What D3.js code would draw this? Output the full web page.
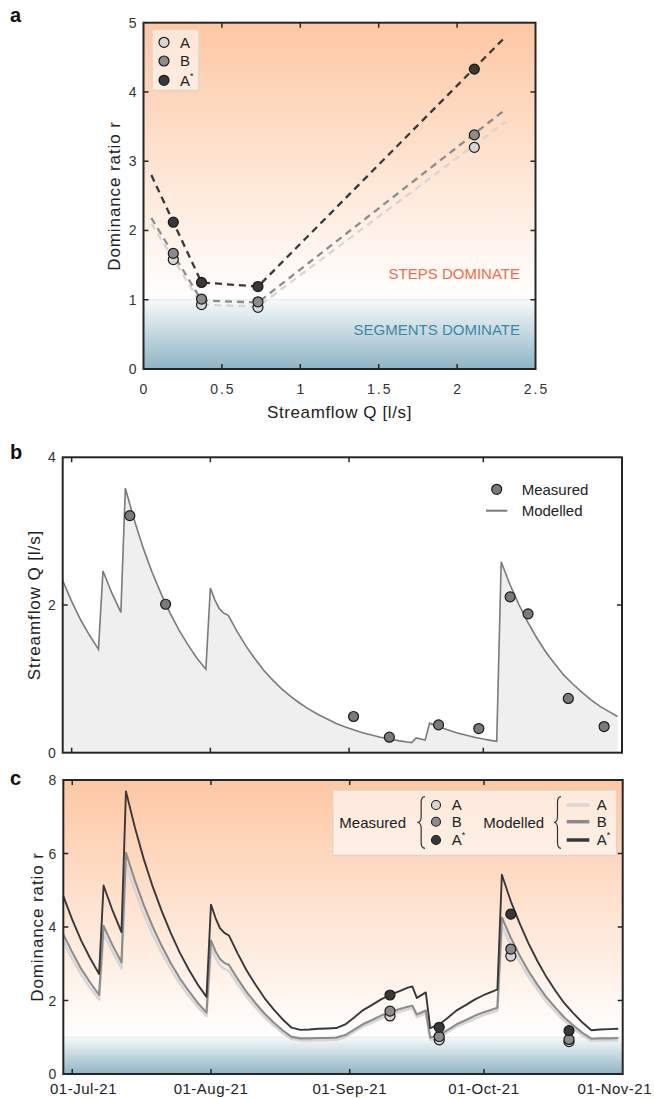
<!DOCTYPE html>
<html><head><meta charset="utf-8">
<script src="https://cdn.jsdelivr.net/npm/d3@7"></script>
<style>
body{margin:0;background:#fff}
svg{display:block}
text{font-family:"Liberation Sans",Arial,Helvetica,sans-serif}
</style>
</head><body>
<svg id="fig" width="654" height="1098"></svg>
<script>
// ---------- Panel a data ----------
const fitQ   = [0.05, 0.37, 0.73, 2.31];
const fitA   = [2.10, 0.93, 0.90, 3.57];
const fitB   = [2.18, 0.99, 0.96, 3.75];
const fitAs  = [2.80, 1.25, 1.19, 4.80];
const measQ  = [0.19, 0.37, 0.73, 2.11];
const measA  = [1.58, 0.93, 0.89, 3.20];
const measB  = [1.67, 1.01, 0.97, 3.38];
const measAs = [2.12, 1.25, 1.19, 4.33];
const xTicksA = [0, 0.5, 1, 1.5, 2, 2.5];
const yTicksA = [0, 1, 2, 3, 4, 5];

// ---------- Panel b/c modelled series ----------
const modelDates = ["2021-06-29","2021-07-01","2021-07-03","2021-07-05","2021-07-07","2021-07-08","2021-07-10","2021-07-12",
"2021-07-13","2021-07-15","2021-07-17","2021-07-19","2021-07-21","2021-07-23","2021-07-25","2021-07-27","2021-07-29","2021-07-31",
"2021-08-01","2021-08-02","2021-08-03","2021-08-04","2021-08-05",
"2021-08-07","2021-08-09","2021-08-11","2021-08-13","2021-08-15","2021-08-17","2021-08-19","2021-08-21","2021-08-23","2021-08-25",
"2021-08-27","2021-08-29","2021-08-31","2021-09-02","2021-09-04","2021-09-06","2021-09-08","2021-09-10","2021-09-12","2021-09-14","2021-09-15",
"2021-09-16","2021-09-18",
"2021-09-19","2021-09-21","2021-09-23","2021-09-25","2021-09-27","2021-09-29","2021-10-01","2021-10-03","2021-10-04",
"2021-10-05","2021-10-07","2021-10-09","2021-10-11","2021-10-13","2021-10-15","2021-10-17","2021-10-19","2021-10-21","2021-10-23",
"2021-10-25","2021-10-27","2021-10-29","2021-10-31"];
const modelQ = [2.33,2.05,1.80,1.59,1.40,2.46,2.16,1.90,
3.58,3.15,2.77,2.44,2.15,1.89,1.66,1.46,1.28,1.13,
2.23,2.07,1.95,1.89,1.86,
1.64,1.44,1.27,1.11,0.98,0.86,0.76,0.67,0.59,0.52,0.46,0.40,0.35,0.31,0.27,0.24,0.21,0.185,0.163,0.144,0.136,
0.20,0.17,
0.40,0.35,0.31,0.27,0.24,0.21,0.185,0.163,0.153,
2.585,2.27,2.00,1.76,1.55,1.36,1.20,1.05,0.93,0.82,0.72,0.63,0.56,0.49];
const modelRAs = [4.84,4.20,3.63,3.15,2.72,5.13,4.45,3.86,
7.69,6.71,5.84,5.09,4.43,3.84,3.31,2.85,2.44,2.10,
4.61,4.25,3.97,3.84,3.77,
3.27,2.81,2.42,2.06,1.76,1.49,1.26,1.20,1.21,1.23,1.24,1.25,1.35,1.54,1.74,1.88,2.03,2.15,2.25,2.35,2.38,
2.07,2.22,
1.25,1.35,1.54,1.74,1.88,2.03,2.15,2.25,2.30,
5.42,4.70,4.09,3.54,3.06,2.63,2.26,1.92,1.65,1.40,1.19,1.21,1.22,1.23];
const modelRB = [3.80,3.31,2.86,2.49,2.15,4.03,3.50,3.04,
6.02,5.26,4.59,4.00,3.48,3.02,2.61,2.26,1.94,1.67,
3.63,3.34,3.13,3.02,2.97,
2.58,2.22,1.92,1.64,1.40,1.19,1.01,0.97,0.97,0.98,0.98,0.99,1.06,1.21,1.36,1.47,1.59,1.68,1.76,1.83,1.86,
1.62,1.73,
0.99,1.06,1.21,1.36,1.47,1.59,1.68,1.76,1.80,
4.26,3.70,3.22,2.79,2.42,2.08,1.80,1.53,1.32,1.12,0.96,0.97,0.97,0.98];
const modelRA = [3.60,3.13,2.71,2.35,2.03,3.82,3.32,2.88,
5.72,4.99,4.35,3.79,3.30,2.86,2.47,2.13,1.83,1.58,
3.43,3.16,2.96,2.86,2.81,
2.44,2.10,1.81,1.54,1.32,1.12,0.95,0.91,0.91,0.92,0.92,0.93,1.00,1.15,1.30,1.40,1.51,1.61,1.69,1.76,1.79,
1.55,1.66,
0.93,1.00,1.15,1.30,1.40,1.51,1.61,1.69,1.72,
4.03,3.50,3.05,2.64,2.29,1.96,1.69,1.44,1.24,1.05,0.90,0.91,0.91,0.92];

// ---------- Panel b measured ----------
const flowDates = ["2021-07-14","2021-07-22","2021-09-02","2021-09-10","2021-09-21","2021-09-30","2021-10-07","2021-10-11","2021-10-20","2021-10-28"];
const flowQ = [3.21, 2.01, 0.49, 0.21, 0.377, 0.327, 2.11, 1.88, 0.735, 0.354];

// ---------- Panel c measured ----------
const ratioDates = ["2021-09-10","2021-09-21","2021-10-07","2021-10-20"];
const ratioA  = [1.58, 0.93, 3.21, 0.88];
const ratioB  = [1.71, 1.02, 3.40, 0.94];
const ratioAs = [2.15, 1.27, 4.35, 1.18];

const dateDomain = ["2021-06-29","2021-11-01"];
const monthTicks = ["2021-07-01","2021-08-01","2021-09-01","2021-10-01","2021-11-01"];
const monthLabels = ["01-Jul-21","01-Aug-21","01-Sep-21","01-Oct-21","01-Nov-21"];
const yTicksB = [0, 2, 4];
const yTicksC = [0, 2, 4, 6, 8];

// ---------- styles ----------
const colA = "#d6d6d6", colB = "#8c8c8c", colAs = "#383838";
const frameCol = "#262626";
const parse = d3.utcParse("%Y-%m-%d");

const svg = d3.select("#fig");
const defs = svg.append("defs");

function gradient(id, y1, y2, stops) {
  const g = defs.append("linearGradient").attr("id", id)
    .attr("gradientUnits", "userSpaceOnUse")
    .attr("x1", 0).attr("x2", 0).attr("y1", y1).attr("y2", y2);
  stops.forEach(s => g.append("stop").attr("offset", s[0]).attr("stop-color", s[1]));
}

function background(prefix, x, y, topVal) {
  const [x0, x1] = x.range();
  gradient(prefix + "warm", y(topVal), y(1), [[0, "#fdc7a3"], [1, "#ffffff"]]);
  gradient(prefix + "cool", y(1), y(0), [[0, "#f7fafb"], [1, "#8fb4c5"]]);
  svg.append("rect").attr("x", x0).attr("y", y(topVal)).attr("width", x1 - x0)
    .attr("height", y(1) - y(topVal)).attr("fill", `url(#${prefix}warm)`);
  svg.append("rect").attr("x", x0).attr("y", y(1)).attr("width", x1 - x0)
    .attr("height", y(0) - y(1)).attr("fill", `url(#${prefix}cool)`);
  svg.append("line").attr("x1", x0).attr("x2", x1).attr("y1", y(1)).attr("y2", y(1))
    .attr("stroke", "#e6e6e6").attr("stroke-width", 1);
}

function frame(x, y, xt, yt) {
  const [x0, x1] = x.range();
  const [y0, y1] = y.range();
  const g = svg.append("g").attr("stroke", frameCol).attr("stroke-width", 1.5);
  const tl = 5;
  xt.forEach(v => {
    const px = x(v);
    if (px <= x0 + 1 || px >= x1 - 1) return;
    g.append("line").attr("x1", px).attr("x2", px).attr("y1", y0).attr("y2", y0 - tl);
    g.append("line").attr("x1", px).attr("x2", px).attr("y1", y1).attr("y2", y1 + tl);
  });
  yt.forEach(v => {
    const py = y(v);
    if (py >= y0 - 1 || py <= y1 + 1) return;
    g.append("line").attr("x1", x0).attr("x2", x0 + tl).attr("y1", py).attr("y2", py);
    g.append("line").attr("x1", x1).attr("x2", x1 - tl).attr("y1", py).attr("y2", py);
  });
  svg.append("rect").attr("x", x0).attr("y", y1).attr("width", x1 - x0).attr("height", y0 - y1)
    .attr("fill", "none").attr("stroke", frameCol).attr("stroke-width", 2);
}

function yTickLabels(x, y, vals) {
  const x0 = x.range()[0];
  svg.append("g").selectAll("text").data(vals).join("text")
    .attr("x", x0 - 7).attr("y", d => y(d) + 5)
    .attr("text-anchor", "end").attr("font-size", 14).attr("fill", "#333")
    .text(d => d);
}

function yLabel(txt, bx, cy) {
  svg.append("text").attr("transform", `translate(${bx},${cy}) rotate(-90)`)
    .attr("text-anchor", "middle").attr("font-size", 17).attr("letter-spacing", 0.9)
    .attr("fill", "#222").text(txt);
}

function panelLetter(t, x, y) {
  svg.append("text").attr("x", x).attr("y", y).attr("font-size", 20)
    .attr("font-weight", "bold").attr("fill", "#111").text(t);
}

function starLabel(g, x, y, base, star) {
  const t = g.append("text").attr("x", x).attr("y", y).attr("font-size", 15).attr("fill", "#222");
  t.append("tspan").text(base);
  if (star) t.append("tspan").attr("font-size", 9).attr("dy", -7).text("*");
}

function circles(data, x, y, fill, r) {
  svg.append("g").selectAll("circle").data(data).join("circle")
    .attr("cx", d => x(d[0])).attr("cy", d => y(d[1])).attr("r", r)
    .attr("fill", fill).attr("stroke", "#1a1a1a").attr("stroke-width", 1.2);
}

function brace(g, tipX, rightX, top, bottom) {
  const mid = (top + bottom) / 2, xm = (tipX + rightX) / 2, r = 6;
  const p = `M${rightX},${top} Q${xm},${top} ${xm},${top + r} L${xm},${mid - r} Q${xm},${mid} ${tipX},${mid}` +
            ` Q${xm},${mid} ${xm},${mid + r} L${xm},${bottom - r} Q${xm},${bottom} ${rightX},${bottom}`;
  g.append("path").attr("d", p).attr("fill", "none").attr("stroke", "#333").attr("stroke-width", 1.2);
}

// ================= Panel a =================
const ax = d3.scaleLinear().domain([0, 2.5]).range([143.5, 535.5]);
const ay = d3.scaleLinear().domain([0, 5]).range([369, 22.7]);
background("a", ax, ay, 5);

svg.append("text").attr("x", 520).attr("y", 278.5).attr("text-anchor", "end")
  .attr("font-size", 15).attr("fill", "#f26a4b").text("STEPS DOMINATE");
svg.append("text").attr("x", 520).attr("y", 335).attr("text-anchor", "end")
  .attr("font-size", 15).attr("fill", "#3c87a4").text("SEGMENTS DOMINATE");

const lineA = d3.line().x(d => ax(d[0])).y(d => ay(d[1]));
[[fitA, colA], [fitB, colB], [fitAs, colAs]].forEach(([vals, c]) => {
  svg.append("path").datum(fitQ.map((q, i) => [q, vals[i]])).attr("d", lineA)
    .attr("fill", "none").attr("stroke", c).attr("stroke-width", 2.3)
    .attr("stroke-dasharray", "7,5");
});
[[measA, colA], [measB, colB], [measAs, colAs]].forEach(([vals, c]) => {
  circles(measQ.map((q, i) => [q, vals[i]]), ax, ay, c, 5);
});

frame(ax, ay, xTicksA, yTicksA);
yTickLabels(ax, ay, yTicksA);
svg.append("g").selectAll("text").data(xTicksA).join("text")
  .attr("x", d => ax(d) + (String(d).length > 1 ? 1 : 0)).attr("y", 393.5)
  .attr("text-anchor", "middle").attr("font-size", 14).attr("fill", "#333")
  .attr("letter-spacing", d => String(d).length > 1 ? 2 : 0)
  .text(d => d);
svg.append("text").attr("x", (ax.range()[0] + ax.range()[1]) / 2).attr("y", 418)
  .attr("text-anchor", "middle").attr("font-size", 17).attr("letter-spacing", 0.6)
  .attr("fill", "#222").text("Streamflow Q [l/s]");
yLabel("Dominance ratio r", 120, 196);
panelLetter("a", 10, 22);

// legend a
const lgA = svg.append("g");
lgA.append("rect").attr("x", 152).attr("y", 29.5).attr("width", 47).attr("height", 61)
  .attr("fill", "rgba(255,255,255,0.55)").attr("stroke", "#e6d2c4").attr("stroke-width", 1.5);
[[colA, "A", false], [colB, "B", false], [colAs, "A", true]].forEach((e, i) => {
  const cy = [42.3, 61, 80.3][i];
  lgA.append("circle").attr("cx", 164).attr("cy", cy).attr("r", 5)
    .attr("fill", e[0]).attr("stroke", "#1a1a1a").attr("stroke-width", 1.2);
  starLabel(lgA, 180, cy + 5.3, e[1], e[2]);
});

// ================= Panel b =================
const bx = d3.scaleUtc().domain(dateDomain.map(parse)).range([62.7, 622]);
const by = d3.scaleLinear().domain([0, 4]).range([752.7, 457.3]);
const mData = modelDates.map((d, i) => ({ d: parse(d), q: modelQ[i], a: modelRA[i], b: modelRB[i], s: modelRAs[i] }));

svg.append("path").datum(mData)
  .attr("d", d3.area().x(d => bx(d.d)).y0(by(0)).y1(d => by(d.q)))
  .attr("fill", "#efefef");
svg.append("path").datum(mData)
  .attr("d", d3.line().x(d => bx(d.d)).y(d => by(d.q)))
  .attr("fill", "none").attr("stroke", "#7a7a7a").attr("stroke-width", 1.6);
circles(flowDates.map((d, i) => [parse(d), flowQ[i]]), bx, by, "#7a7a7a", 5);

frame(bx, by, monthTicks.map(parse), yTicksB);
yTickLabels(bx, by, yTicksB);
yLabel("Streamflow Q [l/s]", 40, 605);
panelLetter("b", 10, 459);

const lgB = svg.append("g");
lgB.append("circle").attr("cx", 496.7).attr("cy", 489.3).attr("r", 5)
  .attr("fill", "#7a7a7a").attr("stroke", "#1a1a1a").attr("stroke-width", 1.2);
lgB.append("line").attr("x1", 486).attr("x2", 507.3).attr("y1", 510.7).attr("y2", 510.7)
  .attr("stroke", "#7a7a7a").attr("stroke-width", 2);
lgB.append("text").attr("x", 521.7).attr("y", 494.6).attr("font-size", 15).attr("fill", "#222").text("Measured");
lgB.append("text").attr("x", 521.7).attr("y", 516).attr("font-size", 15).attr("fill", "#222").text("Modelled");

// ================= Panel c =================
const cx = d3.scaleUtc().domain(dateDomain.map(parse)).range([63.3, 622.7]);
const cy = d3.scaleLinear().domain([0, 8]).range([1074, 780]);
background("c", cx, cy, 8);

[["a", colA, 2.6], ["b", colB, 2.1], ["s", colAs, 1.9]].forEach(([k, c, w]) => {
  svg.append("path").datum(mData)
    .attr("d", d3.line().x(d => cx(d.d)).y(d => cy(d[k])))
    .attr("fill", "none").attr("stroke", c).attr("stroke-width", w).attr("stroke-linejoin", "round");
});
[[ratioA, colA], [ratioB, colB], [ratioAs, colAs]].forEach(([vals, c]) => {
  circles(ratioDates.map((d, i) => [parse(d), vals[i]]), cx, cy, c, 5);
});

frame(cx, cy, monthTicks.map(parse), yTicksC);
yTickLabels(cx, cy, yTicksC);
const xl = svg.append("g").selectAll("text").data(monthTicks).join("text")
  .attr("y", 1094).attr("text-anchor", "middle").attr("font-size", 15)
  .attr("letter-spacing", 0.5).attr("fill", "#222")
  .text((d, i) => monthLabels[i]);
xl.each(function (d) {
  const w = this.getComputedTextLength();
  const x = Math.max(50 + w / 2, Math.min(652 - w / 2, cx(parse(d))));
  d3.select(this).attr("x", x);
});
yLabel("Dominance ratio r", 42.5, 927);
panelLetter("c", 10, 785);

// legend c
const lgC = svg.append("g");
lgC.append("rect").attr("x", 332.7).attr("y", 790).attr("width", 284).attr("height", 65.5)
  .attr("fill", "rgba(255,255,255,0.6)").attr("stroke", "#e6d2c4").attr("stroke-width", 1.5);
lgC.append("text").attr("x", 339.3).attr("y", 828).attr("font-size", 15).attr("fill", "#222").text("Measured");
lgC.append("text").attr("x", 483.3).attr("y", 828).attr("font-size", 15).attr("fill", "#222").text("Modelled");
brace(lgC, 417.3, 425, 796.7, 848.3);
brace(lgC, 554, 561, 796.7, 848.3);
const legYs = [805, 821.7, 840];
[[colA, "A", false], [colB, "B", false], [colAs, "A", true]].forEach((e, i) => {
  lgC.append("circle").attr("cx", 436).attr("cy", legYs[i]).attr("r", 4.5)
    .attr("fill", e[0]).attr("stroke", "#1a1a1a").attr("stroke-width", 1.1);
  starLabel(lgC, 451.7, legYs[i] + 5.3, e[1], e[2]);
  lgC.append("line").attr("x1", 566.7).attr("x2", 589.3).attr("y1", legYs[i]).attr("y2", legYs[i])
    .attr("stroke", e[0]).attr("stroke-width", 3.5);
  starLabel(lgC, 596.7, legYs[i] + 5.3, e[1], e[2]);
});
</script>
</body></html>
